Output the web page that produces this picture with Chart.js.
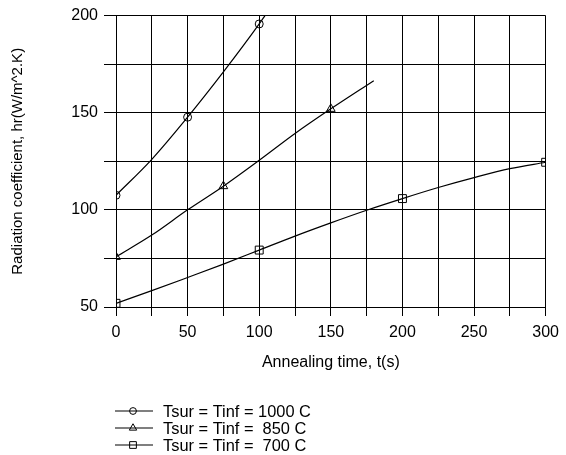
<!DOCTYPE html>
<html>
<head>
<meta charset="utf-8">
<script src="https://cdn.jsdelivr.net/npm/chart.js@4.4.1/dist/chart.umd.min.js"></script>
<style>
  html, body { margin: 0; padding: 0; background: #fff; }
  #wrap { width: 566px; height: 455px; }
</style>
</head>
<body>
<div id="wrap"><canvas id="c" width="566" height="455"></canvas></div>
<script>
// ---- data ----
const seriesNames = ["Tsur = Tinf = 1000 C", "Tsur = Tinf =  850 C", "Tsur = Tinf =  700 C"];
const t1000 = [0, 25, 50, 75, 100, 104];
const h1000 = [107.5, 126, 147.7, 171, 195.7, 200];
const m1000 = [0, 50, 100];          // marker positions
const t850 = [0, 25, 50, 75, 100, 125, 150, 180];
const h850 = [75.8, 87, 100, 112.2, 125.5, 139.3, 152, 166.5];
const m850 = [0, 75, 150];
const t700 = [0, 25, 50, 75, 100, 125, 150, 175, 200, 225, 250, 275, 300];
const h700 = [51.9, 58.4, 65.2, 72.1, 79.3, 86.5, 93.3, 99.8, 105.8, 111.5, 116.6, 121.2, 124.5];
const m700 = [0, 100, 200, 300];
const xTickLabels = [0, 50, 100, 150, 200, 250, 300];
const yTickLabels = [50, 100, 150, 200];

const FONT = "'Liberation Sans', Arial, sans-serif";
const FS = 16;

function pts(xs, ys) { return xs.map((x, i) => ({ x: x, y: ys[i] })); }
function radii(xs, marks, r) { return xs.map(x => marks.includes(x) ? r : 0); }

const styles = [
  { pointStyle: 'circle', r: 4 },
  { pointStyle: 'triangle', r: 5 },
  { pointStyle: 'rect', r: 5.6 }
];
const xsAll = [t1000, t850, t700];
const ysAll = [h1000, h850, h700];
const msAll = [m1000, m850, m700];

const datasets = seriesNames.map((name, i) => ({
  label: name,
  data: pts(xsAll[i], ysAll[i]),
  borderColor: '#000',
  borderWidth: 1.2,
  backgroundColor: 'rgba(0,0,0,0)',
  pointStyle: styles[i].pointStyle,
  pointRadius: radii(xsAll[i], msAll[i], styles[i].r),
  pointBorderColor: '#000',
  pointBorderWidth: 1,
  pointBackgroundColor: 'rgba(0,0,0,0)',
  cubicInterpolationMode: 'monotone',
  fill: false
}));

const legendPlugin = {
  id: 'stackLegend',
  afterDraw(chart) {
    const ctx = chart.ctx;
    const rows = [411, 428, 445];
    ctx.save();
    chart.data.datasets.forEach((ds, i) => {
      const y = rows[i];
      ctx.strokeStyle = '#000';
      ctx.lineWidth = 1.2;
      ctx.beginPath();
      ctx.moveTo(115, y);
      ctx.lineTo(153, y);
      ctx.stroke();
      ctx.lineWidth = 1;
      ctx.fillStyle = 'rgba(0,0,0,0)';
      Chart.helpers.drawPoint(ctx, {
        pointStyle: ds.pointStyle, rotation: 0, radius: styles[i].r * 0.85, borderWidth: 1
      }, 133, y);
      ctx.fillStyle = '#000';
      ctx.font = '16.4px ' + FONT;
      ctx.textBaseline = 'middle';
      ctx.textAlign = 'left';
      ctx.fillText(ds.label, 163, y + 1);
    });
    ctx.restore();
  }
};

new Chart(document.getElementById('c'), {
  type: 'line',
  data: { datasets: datasets },
  plugins: [legendPlugin],
  options: {
    responsive: false,
    animation: false,
    devicePixelRatio: 1,
    layout: { padding: { top: 15, right: 16, bottom: 83, left: 0 } },
    plugins: { legend: { display: false }, tooltip: { enabled: false } },
    scales: {
      x: {
        type: 'linear', min: 0, max: 300,
        afterFit(s) { s.height = 65; },
        ticks: {
          stepSize: 25, color: '#000', padding: 7,
          font: { family: FONT, size: FS },
          maxRotation: 0, autoSkip: false,
          callback: v => xTickLabels.includes(v) ? String(v) : ''
        },
        grid: { color: '#000', lineWidth: 1, tickLength: 9, tickColor: '#000' },
        border: { color: '#000', width: 1 },
        title: { display: true, text: 'Annealing time, t(s)', color: '#000',
                 font: { family: FONT, size: FS }, padding: { top: 0, bottom: 0 } }
      },
      y: {
        type: 'linear', min: 50, max: 200,
        afterFit(s) { s.width = 116; },
        ticks: {
          stepSize: 25, color: '#000', padding: 6,
          font: { family: FONT, size: FS },
          callback: v => yTickLabels.includes(v) ? String(v) : ''
        },
        grid: { color: '#000', lineWidth: 1, tickLength: 12, tickColor: '#000' },
        border: { color: '#000', width: 1 },
        title: { display: true, text: 'Radiation coefficient, hr(W/m^2.K)', color: '#000',
                 font: { family: FONT, size: 15 }, padding: { top: 9, bottom: 0 } }
      }
    }
  }
});
</script>
</body>
</html>
